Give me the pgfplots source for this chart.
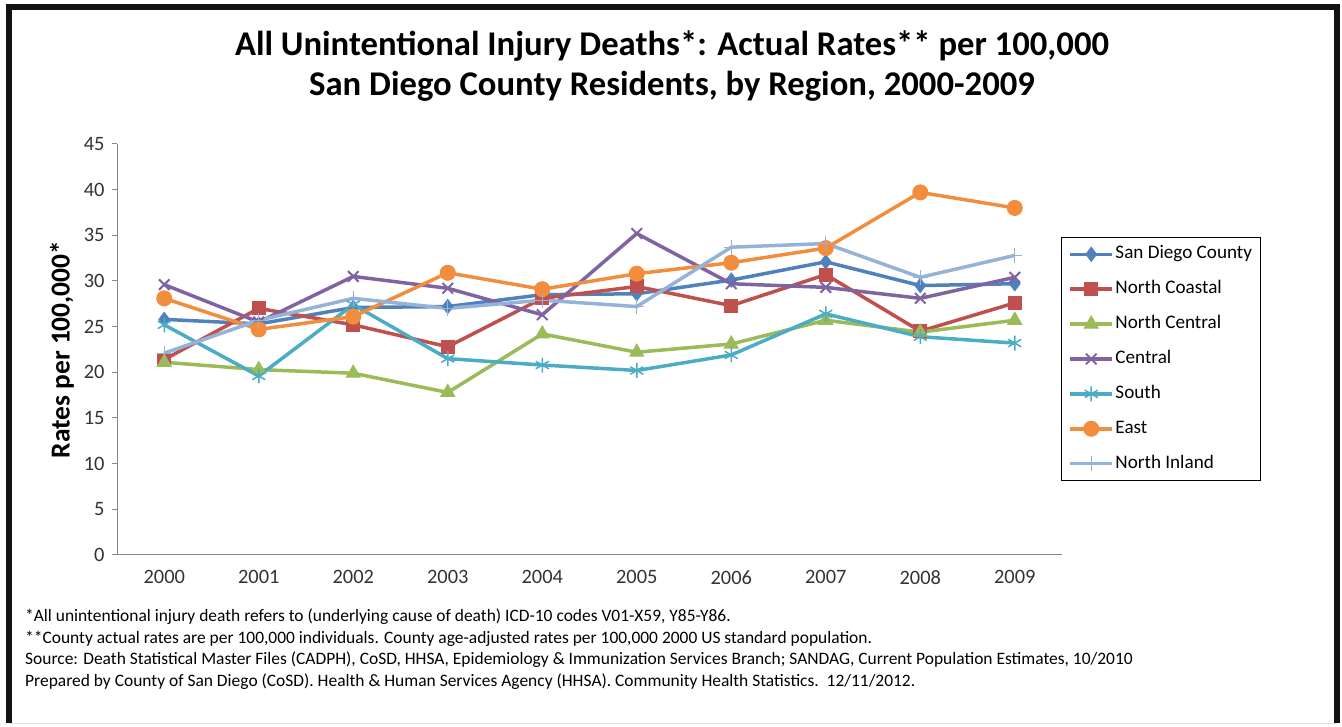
\documentclass[border=0pt]{standalone}
\usepackage{pgfplots}
\pgfplotsset{compat=1.18}
\usepackage{fontspec}
\setmainfont{Carlito}
\definecolor{csdc}{HTML}{4F81BD}
\definecolor{cnco}{HTML}{C0504D}
\definecolor{cnce}{HTML}{9BBB59}
\definecolor{ccen}{HTML}{8064A2}
\definecolor{csou}{HTML}{4BACC6}
\definecolor{ceas}{HTML}{F38D3E}
\definecolor{cnin}{HTML}{95B3D7}
\definecolor{axgray}{HTML}{868686}
\begin{document}
\begin{tikzpicture}[x=1bp,y=1bp]
\path[use as bounding box] (0,0) rectangle (1342,726);
\draw[line width=6bp, black!93] (9,3) -- (9,718.5) -- (1337,718.5) -- (1337,3);
\draw[black!12, line width=1bp] (9,2.5) -- (1337,2.5);
\node[font=\bfseries\fontsize{34.8}{40}\selectfont] at (672,680) {All Unintentional Injury Deaths*: Actual Rates** per 100,000};
\node[font=\bfseries\fontsize{34.8}{40}\selectfont] at (672,640) {San Diego County Residents, by Region, 2000-2009};
\begin{axis}[
  at={(117bp,171bp)}, anchor=south west, scale only axis,
  width=945bp, height=411bp,
  xmin=-0.5, xmax=9.5, ymin=0, ymax=45,
  xtick={0,...,9},
  xticklabels={2000,2001,2002,2003,2004,2005,2006,2007,2008,2009},
  ytick={0,5,...,45},
  axis x line*=bottom, axis y line*=left,
  axis line style={-, draw=axgray, line width=1bp},
  x tick style={draw=none},
  y tick style={draw=axgray, line width=1bp},
  tick align=outside, major tick length=5bp,
  /pgf/number format/assume math mode=true,
  tick label style={font=\fontsize{20.5}{22}\selectfont, text=black!80},
  xticklabel style={yshift=-7bp},
  yticklabel style={xshift=-4bp},
  ylabel={Rates per 100,000*},
  every axis y label/.style={at={(axis description cs:-0.0582,0.5)}, rotate=90, anchor=center, font=\bfseries\fontsize{27.5}{30}\selectfont},
  legend style={at={(axis description cs:0.999,0.774)}, anchor=north west,
    draw=black, line width=0.8bp, font=\fontsize{19.2}{22}\selectfont,
    row sep=14.9bp, inner sep=7bp,
    nodes={inner sep=1.5bp, text height=13bp, text depth=4bp}},
  legend cell align=left,
  legend image code/.code={\draw[mark repeat=2,mark phase=2,#1] plot coordinates {(0bp,0bp) (21bp,0bp) (42bp,0bp)};},
  every axis plot/.append style={line width=3.5bp},
]
\addplot[color=csdc, mark=diamond*, mark size=7bp, mark options={solid, line width=1bp}] coordinates {
(0,25.8) (1,25.3) (2,27.1) (3,27.2) (4,28.5) (5,28.6) (6,30.1) (7,32.1) (8,29.5) (9,29.7)};
\addlegendentry{San Diego County}
\addplot[color=cnco, mark=square*, mark size=6.5bp, mark options={solid, line width=1bp}] coordinates {
(0,21.4) (1,27.0) (2,25.2) (3,22.8) (4,28.1) (5,29.4) (6,27.3) (7,30.7) (8,24.5) (9,27.6)};
\addlegendentry{North Coastal}
\addplot[color=cnce, mark=triangle*, mark size=8bp, mark options={solid, line width=1bp}] coordinates {
(0,21.1) (1,20.3) (2,19.9) (3,17.8) (4,24.2) (5,22.2) (6,23.1) (7,25.7) (8,24.4) (9,25.7)};
\addlegendentry{North Central}
\addplot[color=ccen, mark=x, mark size=7.5bp, mark options={solid, line width=2bp}] coordinates {
(0,29.6) (1,25.5) (2,30.5) (3,29.2) (4,26.3) (5,35.2) (6,29.7) (7,29.3) (8,28.1) (9,30.4)};
\addlegendentry{Central}
\addplot[color=csou, mark=asterisk, mark size=7.5bp, mark options={solid, line width=1.5bp}] coordinates {
(0,25.2) (1,19.6) (2,27.4) (3,21.5) (4,20.8) (5,20.2) (6,21.9) (7,26.4) (8,23.9) (9,23.2)};
\addlegendentry{South}
\addplot[color=ceas, mark=*, mark size=7.5bp, mark options={solid, line width=1bp}] coordinates {
(0,28.1) (1,24.7) (2,26.1) (3,30.9) (4,29.1) (5,30.8) (6,32.0) (7,33.6) (8,39.7) (9,38.0)};
\addlegendentry{East}
\addplot[color=cnin, mark=+, mark size=7.5bp, mark options={solid, line width=1.2bp}] coordinates {
(0,22.1) (1,25.7) (2,28.1) (3,27.0) (4,27.9) (5,27.2) (6,33.7) (7,34.1) (8,30.4) (9,32.8)};
\addlegendentry{North Inland}
\end{axis}
\begin{scope}[every node/.style={anchor=base west, inner sep=0pt, font=\fontsize{17.5}{20}\selectfont}]
\node at (25,104) {*All unintentional injury death refers to (underlying cause of death) ICD-10 codes V01-X59, Y85-Y86.};
\node at (25,82.5) {**County actual rates are per 100,000 individuals. County age-adjusted rates per 100,000 2000 US standard population.};
\node at (25,61) {Source: Death Statistical Master Files (CADPH), CoSD, HHSA, Epidemiology \& Immunization Services Branch; SANDAG, Current Population Estimates, 10/2010};
\node at (25,39.5) {Prepared by County of San Diego (CoSD). Health \& Human Services Agency (HHSA). Community Health Statistics.\ \ 12/11/2012.};
\end{scope}
\end{tikzpicture}
\end{document}
